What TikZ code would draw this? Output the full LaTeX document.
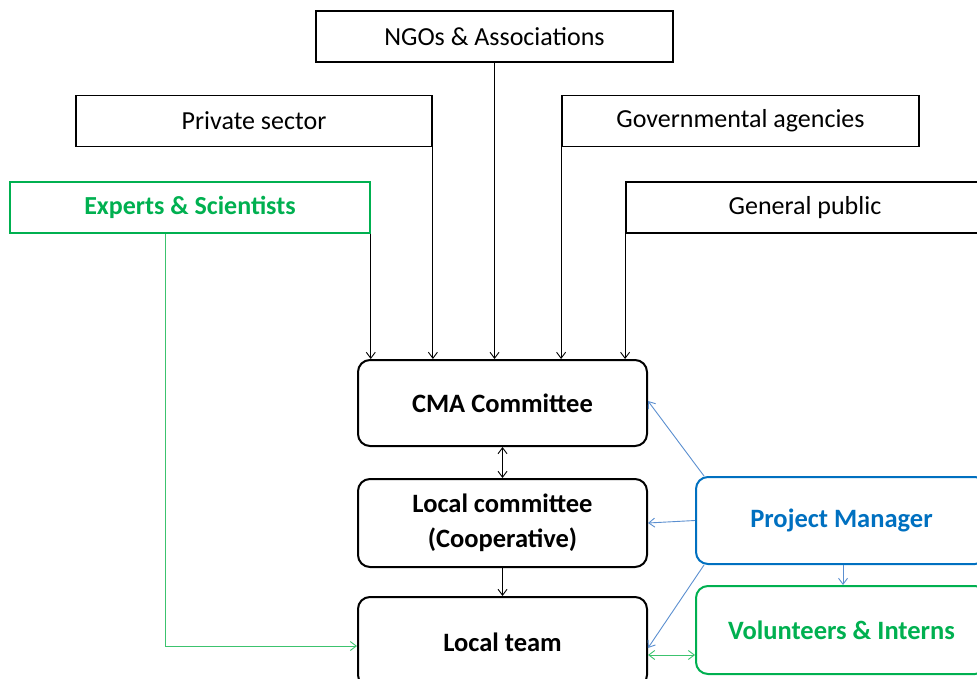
\documentclass[tikz,border=0pt]{standalone}
\usepackage{fontspec}
\setmainfont{Carlito}
\usetikzlibrary{arrows.meta}
\definecolor{grn}{HTML}{00B050}
\definecolor{grnline}{HTML}{3CC36E}
\definecolor{blu}{HTML}{0070C0}
\definecolor{bluline}{HTML}{5B8FD0}
\begin{document}
\begin{tikzpicture}[x=1pt,y=-1pt,
  sqbox/.style={draw=black,line width=1.8pt,minimum height=51pt,inner sep=0pt,font=\fontsize{26}{28}\selectfont},
  rbox/.style={draw=black,line width=2pt,rounded corners=12pt,minimum width=289pt,inner sep=0pt,
    font=\bfseries\fontsize{26.5}{35}\selectfont,align=center},
  tip/.style={-{Straight Barb[length=6pt,width=9pt]}},
  both/.style={{Straight Barb[length=6pt,width=9pt]}-{Straight Barb[length=6pt,width=9pt]}},
  thin/.style={line width=0.9pt}]
\useasboundingbox (0,0) rectangle (977,679);
\clip (0,0) rectangle (977,679);

% outside stakeholders
\node[sqbox,minimum width=357pt] (ngo) at (494.5,36.5) {NGOs \& Associations};
\node[sqbox,minimum width=356pt] (priv) at (254,121) {Private sector};
\node[sqbox,minimum width=357pt] (gov) at (740.5,121) {Governmental agencies};
\node[sqbox,draw=grn,line width=1.6pt,minimum width=360pt,text=grn,font=\bfseries\fontsize{26}{28}\selectfont] (exp) at (190,207.5) {Experts \& Scientists};
\node[sqbox,minimum width=358pt] (pub) at (805,207.5) {General public};

% core structure
\node[rbox,minimum height=86pt] (cma) at (502.5,403) {CMA Committee};
\node[rbox,minimum height=88pt] (lc) at (502.5,523) {Local committee\\(Cooperative)};
\node[rbox,minimum height=90pt] (lt) at (502.5,642) {Local team};

\node[rbox,draw=blu,text=blu,minimum width=291pt,minimum height=87pt] (pm) at (841.5,520.5) {Project Manager};
\node[rbox,draw=grn,text=grn,minimum width=291pt,minimum height=88pt] (vol) at (841.5,630) {Volunteers \& Interns};

% stakeholder inputs to the CMA committee
\draw[thin,tip] (exp.south east) -- (exp.south east |- cma.north);
\draw[thin,tip] (priv.south east) -- (priv.south east |- cma.north);
\draw[thin,tip] (ngo.south) -- (ngo.south |- cma.north);
\draw[thin,tip] (gov.south west) -- (gov.south west |- cma.north);
\draw[thin,tip] (pub.south west) -- (pub.south west |- cma.north);

% vertical chain
\draw[thin,both] (cma.south) -- (lc.north);
\draw[thin,tip] (lc.south) -- (lt.north);

% experts to local team
\coordinate (ec) at ([xshift=-25pt]exp.south);
\draw[grnline,thin,tip] (ec) |- (lt.west |- 0,646);

% project manager links
\draw[bluline,thin,tip] ([xshift=9pt]pm.north west) -- ([yshift=2pt]cma.east);
\draw[bluline,thin,tip] (pm.west) -- (lc.west -| lc.east);
\draw[bluline,thin,tip] ([xshift=9pt]pm.south west) -- ([yshift=-6pt]lt.east);
\draw[bluline,thin,tip] (pm.south -| 843,0) -- (vol.north -| 843,0);
\draw[grnline,thin,both] (lt.east |- 0,655) -- (vol.west |- 0,655);
\end{tikzpicture}
\end{document}
